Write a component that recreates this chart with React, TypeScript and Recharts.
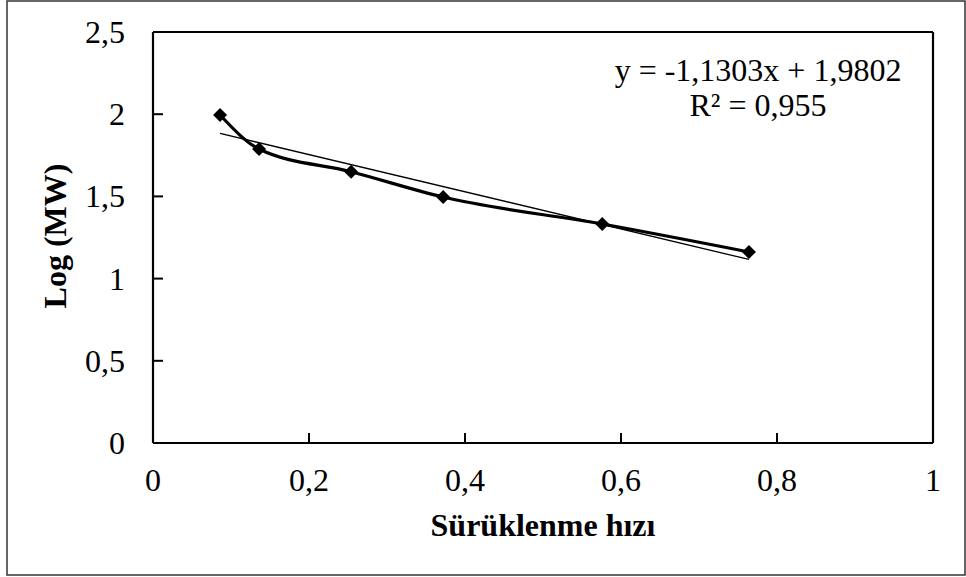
import { LineChart, Line, XAxis, YAxis, ReferenceLine } from 'recharts';

// Sürüklenme hızı (x) vs Log(MW) (y)
const SPEED = [0.086, 0.136, 0.254, 0.372, 0.576, 0.764];
const LOG_MW = [1.995, 1.788, 1.65, 1.496, 1.332, 1.162];

const X_TICKS = [0, 0.2, 0.4, 0.6, 0.8, 1];
const Y_TICKS = [0, 0.5, 1, 1.5, 2, 2.5];

// linear trendline as reported on the chart
const TREND_SLOPE = -1.1303;
const TREND_INTERCEPT = 1.9802;
const R_SQUARED = 0.955;

const FONT = '"Liberation Serif", "Times New Roman", serif';
const FONT_SIZE = 32;

const points = SPEED.map((x, i) => ({ x, y: LOG_MW[i] }));
const trend = [Math.min(...SPEED), Math.max(...SPEED)].map((x) => ({
  x,
  y: TREND_INTERCEPT + TREND_SLOPE * x,
}));

const fmt = (v: number) => String(v).replace('.', ',');

const Diamond = (props: any) => {
  const { cx, cy, index } = props;
  if (cx == null || cy == null) return null;
  const r = 7;
  return (
    <polygon
      key={`dot-${index}`}
      points={`${cx},${cy - r} ${cx + r},${cy} ${cx},${cy + r} ${cx - r},${cy}`}
      fill="#000"
    />
  );
};

const XTick = ({ x, y, payload }: any) => (
  <g>
    {payload.value > 0 && payload.value < 1 && (
      <line x1={x} y1={y} x2={x} y2={y - 10} stroke="#000" strokeWidth={2} />
    )}
    <text x={x} y={y + 48} textAnchor="middle" fontSize={FONT_SIZE} fontFamily={FONT} fill="#000">
      {fmt(payload.value)}
    </text>
  </g>
);

const YTick = ({ x, y, payload }: any) => (
  <g>
    {payload.value > 0 && payload.value < 2.5 && (
      <line x1={x} y1={y} x2={x + 10} y2={y} stroke="#000" strokeWidth={2} />
    )}
    <text x={x - 28} y={y + 11} textAnchor="end" fontSize={FONT_SIZE} fontFamily={FONT} fill="#000">
      {fmt(payload.value)}
    </text>
  </g>
);

export default function App() {
  return (
    <div style={{ position: 'absolute', left: 0, top: 0, width: 966, height: 577, background: '#fff' }}>
      <LineChart width={966} height={577} margin={{ top: 32, right: 33, bottom: 74, left: 93 }}>
        <XAxis
          type="number"
          dataKey="x"
          domain={[0, 1]}
          ticks={X_TICKS}
          tickSize={0}
          tickMargin={0}
          height={60}
          axisLine={{ stroke: '#000', strokeWidth: 2.2 }}
          tickLine={false}
          tick={<XTick />}
        />
        <YAxis
          type="number"
          dataKey="y"
          domain={[0, 2.5]}
          ticks={Y_TICKS}
          tickSize={0}
          tickMargin={0}
          width={60}
          axisLine={{ stroke: '#000', strokeWidth: 2.2 }}
          tickLine={false}
          tick={<YTick />}
        />
        <ReferenceLine y={2.5} stroke="#000" strokeWidth={2.2} />
        <ReferenceLine x={1} stroke="#000" strokeWidth={2.2} />
        <Line
          data={trend}
          dataKey="y"
          type="linear"
          stroke="#000"
          strokeWidth={1.3}
          dot={false}
          isAnimationActive={false}
        />
        <Line
          data={points}
          dataKey="y"
          type="monotone"
          stroke="#000"
          strokeWidth={3.2}
          dot={<Diamond />}
          activeDot={false}
          isAnimationActive={false}
        />
      </LineChart>
      <svg
        width={966}
        height={577}
        style={{ position: 'absolute', left: 0, top: 0, pointerEvents: 'none' }}
        fontFamily={FONT}
      >
        <rect x={7} y={1} width={958} height={574} fill="none" stroke="#333" strokeWidth={1.5} />
        <text x={758} y={81} textAnchor="middle" fontSize={FONT_SIZE} fill="#000">
          {`y = ${fmt(TREND_SLOPE)}x + ${fmt(TREND_INTERCEPT)}`}
        </text>
        <text x={758} y={116} textAnchor="middle" fontSize={FONT_SIZE} fill="#000">
          {`R² = ${fmt(R_SQUARED)}`}
        </text>
        <text x={543} y={536} textAnchor="middle" fontSize={FONT_SIZE} fontWeight="bold" fill="#000">
          Sürüklenme hızı
        </text>
        <text
          x={55}
          y={236}
          textAnchor="middle"
          dominantBaseline="central"
          fontSize={FONT_SIZE}
          fontWeight="bold"
          fill="#000"
          transform="rotate(-90, 55, 236)"
        >
          Log (MW)
        </text>
      </svg>
    </div>
  );
}
